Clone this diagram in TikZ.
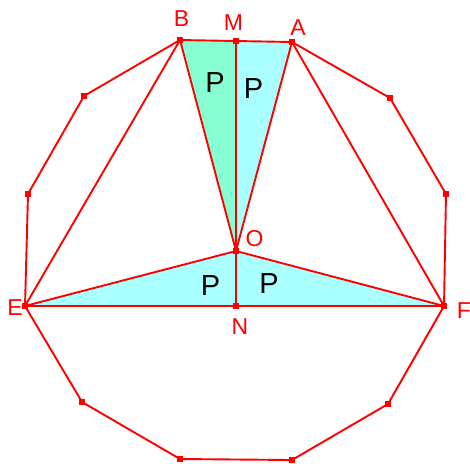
\documentclass[tikz,border=0pt]{standalone}
\usepackage{fontspec}
\setmainfont{Liberation Sans}
\definecolor{fgreen}{RGB}{136,255,210}
\definecolor{fcyan}{RGB}{170,255,255}
\tikzset{
  edge/.style={draw=red, line width=1.9pt, line join=round},
  vtx/.style={fill=red, minimum size=5.5pt, inner sep=0pt, draw=none, rectangle},
  lbl/.style={text=red, font=\fontsize{23}{23}\selectfont, inner sep=0pt},
  plbl/.style={text=black, font=\fontsize{29}{29}\selectfont, inner sep=0pt}
}
\begin{document}
\begin{tikzpicture}[x=1pt,y=-1pt]
\useasboundingbox (0,0) rectangle (470,463);
% coordinates
\coordinate (B) at (180,40);
\coordinate (A) at (292,42);
\coordinate (M) at (236,41);
\coordinate (O) at (236,251);
\coordinate (E) at (25,306);
\coordinate (F) at (444,306);
\coordinate (N) at (236,306);
\coordinate (V1) at (84,96);
\coordinate (V2) at (28,194);
\coordinate (V3) at (82,402);
\coordinate (V4) at (180,459);
\coordinate (V5) at (292,460);
\coordinate (V6) at (388,404);
\coordinate (V7) at (446,194);
\coordinate (V8) at (390,98);
% fills
\fill[fgreen] (B) -- (M) -- (O) -- cycle;
\fill[fcyan] (M) -- (A) -- (O) -- cycle;
\fill[fcyan] (E) -- (O) -- (F) -- cycle;
% polygon
\draw[edge] (B) -- (V1) -- (V2) -- (E) -- (V3) -- (V4) -- (V5) -- (V6) -- (F) -- (V7) -- (V8) -- (A) -- cycle;
% segments
\draw[edge] (B) -- (E);
\draw[edge] (A) -- (F);
\draw[edge] (B) -- (O);
\draw[edge] (A) -- (O);
\draw[edge] (M) -- (O);
\draw[edge] (E) -- (O);
\draw[edge] (F) -- (O);
\draw[edge] (O) -- (N);
\draw[edge] (E) -- (F);
% vertex markers
\foreach \p in {B,A,M,O,E,F,N,V1,V2,V3,V4,V5,V6,V7,V8}
  \node[vtx] at (\p) {};
% labels
\node[lbl] (lB) at (181.5,18.5) {B};
\node[lbl] (lM) at (233.5,23) {M};
\node[lbl] (lA) at (298,27.5) {A};
\node[lbl] (lO) at (254.5,238.5) {O};
\node[lbl] (lE) at (15,308) {E};
\node[lbl] (lF) at (464,311) {F};
\node[lbl] (lN) at (240,327) {N};
\node[plbl] (p1) at (215,83) {P};
\node[plbl] (p2) at (253.5,88.5) {P};
\node[plbl] (p3) at (210.5,285.5) {P};
\node[plbl] (p4) at (269,283.5) {P};
\end{tikzpicture}
\end{document}
